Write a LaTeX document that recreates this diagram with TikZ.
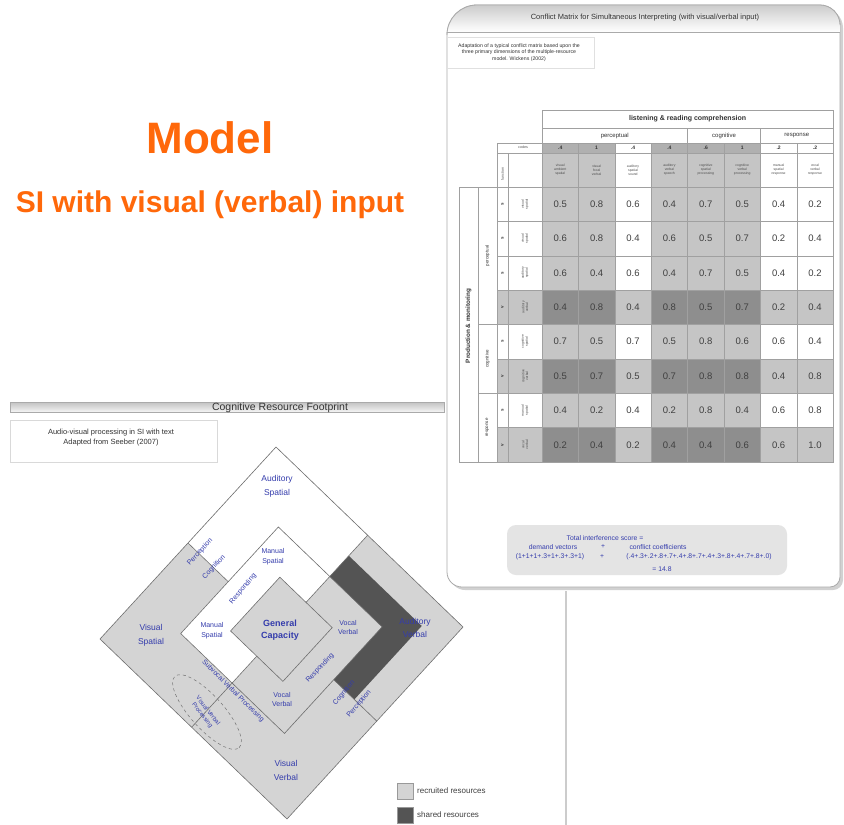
\documentclass[tikz,border=0pt]{standalone}
\usepackage{fontspec}
\setmainfont{Liberation Sans}
\usetikzlibrary{shapes.geometric}

\definecolor{titleorange}{RGB}{255,104,10}
\definecolor{diagblue}{RGB}{52,60,172}
\definecolor{regiongray}{RGB}{212,212,212}
\definecolor{shareddark}{RGB}{84,84,84}
\definecolor{regionedge}{RGB}{110,110,110}
\definecolor{cellL}{RGB}{197,197,197}
\definecolor{cellD}{RGB}{142,142,142}
\definecolor{cellN}{RGB}{176,176,176}
\definecolor{gridgray}{RGB}{160,160,160}
\definecolor{panelline}{RGB}{170,170,170}
\definecolor{formulabg}{RGB}{228,228,228}
\colorlet{cellsA}{cellL}
\colorlet{cellsB}{white}
\colorlet{cellvA}{cellD}
\colorlet{cellvB}{cellL}

\newcommand{\fsz}[1]{\fontsize{#1}{#1}\selectfont}

\begin{document}
\begin{tikzpicture}[x=1pt,y=-1pt,
  dlabel/.style={text=diagblue, align=center, inner sep=0pt, font=\fontsize{8.5}{14}\selectfont},
  slabel/.style={text=diagblue, align=center, inner sep=0pt, font=\fontsize{7}{10}\selectfont},
  regionline/.style={draw=regionedge, line width=0.6pt},
  cell/.style={draw=gridgray, line width=0.4pt, minimum width=36.4pt, minimum height=34.375pt, inner sep=0pt, font=\fsz{9.5}, text=black!75},
  hcell/.style={draw=gridgray, line width=0.4pt, inner sep=0pt, align=center, text=black!80},
  tinytext/.style={inner sep=0pt, align=center, text=black!70, font=\fontsize{3.4}{3.9}\selectfont}
]
\useasboundingbox (0,0) rectangle (844,825);
\fill[white] (0,0) rectangle (844,825);

% ---------- title ----------
\node[anchor=base, text=titleorange, font=\fsz{44}\bfseries, inner sep=0pt] (model) at (210,153) {Model};
\node[anchor=base, text=titleorange, font=\fsz{30}\bfseries, inner sep=0pt] (subtitle) at (210,212) {SI with visual (verbal) input};

% ---------- cognitive resource footprint panel ----------
\shade[top color=black!24, bottom color=black!4, draw=panelline, line width=0.5pt] (10,402) rectangle (444,412);
\node[font=\fsz{10.5}, text=black!80, inner sep=0pt] (crfTitle) at (280,407.5) {Cognitive Resource Footprint};
\node[draw=black!15, line width=0.6pt, minimum width=207pt, minimum height=42pt, inner sep=0pt] (crfBox) at (113.5,441) {};
\node[font=\fontsize{7.5}{10}\selectfont, align=center, text=black!80, inner sep=0pt] (crfNote) at (111,438) {Audio-visual processing in SI with text\\Adapted from Seeber (2007)};

% diamond: a runs towards the right corner, b towards the left corner
\begin{scope}[shift={(276,447)}, x={(187pt,-180pt)}, y={(-176pt,-192pt)}]
  \fill[regiongray] (0,0) -- (1,0) -- (1,1) -- (0,1) -- cycle;
  \fill[white] (0,0) -- (0.49,0) -- (0.49,0.5) -- (0,0.5) -- cycle;
  \fill[regiongray] (0.215,0.215) -- (0.77,0.215) -- (0.77,0.77) -- (0.215,0.77) -- cycle;
  \fill[white] (0.215,0.215) -- (0.49,0.215) -- (0.49,0.77) -- (0.215,0.77) -- cycle;
  \fill[shareddark] (0.49,0.107) -- (0.88,0.107) -- (0.88,0.49) -- (0.77,0.49) -- (0.77,0.215) -- (0.49,0.215) -- cycle;
  \fill[regiongray] (0.35,0.35) -- (0.63,0.35) -- (0.63,0.63) -- (0.35,0.63) -- cycle;
  \draw[regionline] (0,0) -- (1,0) -- (1,1) -- (0,1) -- cycle;
  \draw[regionline] (0.215,0.215) -- (0.77,0.215) -- (0.77,0.77) -- (0.215,0.77) -- cycle;
  \draw[regionline] (0.35,0.35) -- (0.63,0.35) -- (0.63,0.63) -- (0.35,0.63) -- cycle;
  \draw[regionline] (0.49,0) -- (0.49,0.215);
  \draw[regionline] (0,0.5) -- (0.215,0.5);
  \draw[regionline] (0.49,0.77) -- (0.49,1);
  \draw[regionline] (0.77,0.49) -- (1,0.49);
  \draw[regionline] (0.49,0.215) -- (0.49,0.35);
  \draw[regionline] (0.49,0.63) -- (0.49,0.77);
\end{scope}

\node[dlabel] (audSpatial) at (277,486) {Auditory\\Spatial};
\node[dlabel] (visSpatial) at (151,635) {Visual\\Spatial};
\node[dlabel, font=\fontsize{8.5}{13}\selectfont] (audVerbal) at (415,628) {Auditory\\Verbal};
\node[dlabel] (visVerbal) at (286,770) {Visual\\Verbal};
\node[slabel] (manTop) at (273,557) {Manual\\Spatial};
\node[slabel] (manLeft) at (212,631) {Manual\\Spatial};
\node[slabel, font=\fontsize{7}{9}\selectfont] (vocRight) at (348,627.5) {Vocal\\Verbal};
\node[slabel, font=\fontsize{7}{9}\selectfont] (vocBottom) at (282,699.5) {Vocal\\Verbal};
\node[dlabel, font=\fontsize{9}{12}\selectfont\bfseries] (genCap) at (280,630) {General\\Capacity};
\node[slabel, rotate=47] (percTop) at (200,552) {Perception};
\node[slabel, rotate=47] (cogTop) at (214,567) {Cognition};
\node[slabel, rotate=50] (respTop) at (243,589) {Responding};
\node[slabel, rotate=47] (respLow) at (320,668) {Responding};
\node[slabel, rotate=-45, font=\fsz{6.8}] (subvocal) at (233,691) {Subvocal Verbal Processing};
\node[draw=black!55, dashed, line width=0.5pt, ellipse, minimum width=96pt, minimum height=33pt, rotate=-48] (procEllipse) at (207,712) {};
\node[slabel, rotate=-52, font=\fontsize{6}{7.2}\selectfont] (ellText) at (205,713) {Visual Verbal\\Processing};
\node[slabel, rotate=50] (cogLow) at (344,693) {Cognition};
\node[slabel, rotate=50] (percLow) at (359,704) {Perception};

% legend
\node[draw=black!40, fill=regiongray, minimum size=16pt, inner sep=0pt] (legRec) at (405,791) {};
\node[anchor=west, font=\fsz{8}, text=black!75, inner sep=0pt] (legRecTxt) at (417,791) {recruited resources};
\node[draw=black!40, fill=shareddark, minimum size=16pt, inner sep=0pt] (legSha) at (405,815) {};
\node[anchor=west, font=\fsz{8}, text=black!75, inner sep=0pt] (legShaTxt) at (417,815) {shared resources};

% ---------- conflict matrix panel ----------
\coordinate (stemTop) at (566,591);
\coordinate (stemBot) at (566,825);
\draw[black!20, line width=2pt] (stemTop) -- (stemBot);

\fill[black!18] (450,38) .. controls (450,21.4) and (463.4,8) .. (480,8) -- (823,8)
  .. controls (834,8) and (843,17) .. (843,28) -- (843,580)
  .. controls (843,585.5) and (838.5,590) .. (833,590) -- (465,590)
  .. controls (456.7,590) and (450,583.3) .. (450,575) -- cycle;
\path[fill=white, draw=panelline, line width=0.8pt] (447,35) .. controls (447,18.4) and (460.4,5) .. (477,5) -- (820,5)
  .. controls (831,5) and (840,14) .. (840,25) -- (840,577)
  .. controls (840,582.5) and (835.5,587) .. (830,587) -- (462,587)
  .. controls (453.7,587) and (447,580.3) .. (447,572) -- cycle;
\begin{scope}
  \clip (447,35) .. controls (447,18.4) and (460.4,5) .. (477,5) -- (820,5)
  .. controls (831,5) and (840,14) .. (840,25) -- (840,40) -- (447,40) -- cycle;
  \shade[top color=black!20, bottom color=white] (447,5) rectangle (840,32);
\end{scope}
\draw[panelline, line width=0.6pt] (447,32) -- (840,32);
\draw[panelline, line width=0.8pt] (447,35) .. controls (447,18.4) and (460.4,5) .. (477,5) -- (820,5)
  .. controls (831,5) and (840,14) .. (840,25);
\node[font=\fsz{7.5}, text=black!80, inner sep=0pt] (cmTitle) at (645,18) {Conflict Matrix for Simultaneous Interpreting (with visual/verbal input)};
\node[draw=black!12, line width=0.5pt, minimum width=148pt, minimum height=31pt, inner sep=0pt] (cmBox) at (520,52.5) {};
\node[font=\fontsize{5.2}{6.3}\selectfont, align=center, text=black!80, inner sep=0pt] (cmNote) at (519,52.5) {Adaptation of a typical conflict matrix based upon the\\three primary dimensions of the multiple-resource\\model. Wickens (2002)};

% table header
\node[hcell, minimum width=291.2pt, minimum height=18pt, font=\fsz{7}\bfseries] (hLRC) at (687.6,119) {listening \& reading comprehension};
\node[hcell, minimum width=145.6pt, minimum height=15pt, font=\fsz{6}] (hPer) at (614.8,135.5) {perceptual};
\node[hcell, minimum width=72.8pt, minimum height=15pt, font=\fsz{6}] (hCog) at (724,135.5) {cognitive};
\node[hcell, minimum width=72.8pt, minimum height=15pt, font=\fsz{6}] (hRes) at (796.8,135.5) {response};
\foreach \n/\nf/\lf/\lab [count=\c] in {
  .4/cellN/cellL/{visual\\ambient\\spatial},
  1/cellN/cellL/{visual\\focal\\verbal},
  .4/white/white/{auditory\\spatial\\sound},
  .4/cellN/cellL/{auditory\\verbal\\speech},
  .6/cellN/cellL/{cognitive\\spatial\\processing},
  1/cellN/cellL/{cognitive\\verbal\\processing},
  .2/white/white/{manual\\spatial\\response},
  .2/white/white/{vocal\\verbal\\response}}
{
  \node[hcell, fill=\nf, minimum width=36.4pt, minimum height=10pt, font=\fsz{5}\bfseries] (num\c) at (542+36.4*\c-18.2,148) {\n};
  \node[hcell, fill=\lf, minimum width=36.4pt, minimum height=34pt] (lab\c) at (542+36.4*\c-18.2,170) {};
  \node[tinytext] (labTxt\c) at (542+36.4*\c-18.2,170) {\lab};
}
\node[hcell, minimum width=45pt, minimum height=10pt] (hCodes) at (519.5,148) {};
\node[tinytext, font=\fsz{3.6}] (hCodesTxt) at (523,147) {codes};
\node[hcell, minimum width=11pt, minimum height=34pt] (hFunc) at (502.5,170) {};
\node[tinytext, rotate=90, font=\fsz{3.6}] (hFuncTxt) at (502.5,174) {function};
\node[hcell, minimum width=34pt, minimum height=34pt] (hBlank) at (525,170) {};

% row groups
\node[hcell, minimum width=19pt, minimum height=275pt] (gProd) at (468.5,324.5) {};
\node[rotate=90, font=\fsz{6.3}\bfseries, text=black!80, inner sep=0pt] (gProdTxt) at (468.5,326) {Production \& monitoring};
\node[hcell, minimum width=19pt, minimum height=137.5pt] (gPer) at (487.5,255.75) {};
\node[rotate=90, font=\fsz{4.5}, text=black!80, inner sep=0pt] (gPerTxt) at (487.5,255.75) {perceptual};
\node[hcell, minimum width=19pt, minimum height=68.75pt] (gCog) at (487.5,358.9) {};
\node[rotate=90, font=\fsz{4.5}, text=black!80, inner sep=0pt] (gCogTxt) at (487.5,358.9) {cognitive};
\node[hcell, minimum width=19pt, minimum height=68.75pt] (gRes) at (487.5,427.6) {};
\node[rotate=90, font=\fsz{4.5}, text=black!80, inner sep=0pt] (gResTxt) at (487.5,427.6) {response};

% matrix rows
\foreach \r/\k/\lett/\lab/\vals in {
  1/s/s/{visual\\spatial}/{0.5,0.8,0.6,0.4,0.7,0.5,0.4,0.2},
  2/s/s/{visual\\spatial}/{0.6,0.8,0.4,0.6,0.5,0.7,0.2,0.4},
  3/s/s/{auditory\\spatial}/{0.6,0.4,0.6,0.4,0.7,0.5,0.4,0.2},
  4/v/v/{auditory\\verbal}/{0.4,0.8,0.4,0.8,0.5,0.7,0.2,0.4},
  5/s/s/{cognitive\\spatial}/{0.7,0.5,0.7,0.5,0.8,0.6,0.6,0.4},
  6/v/v/{cognitive\\verbal}/{0.5,0.7,0.5,0.7,0.8,0.8,0.4,0.8},
  7/s/s/{manual\\spatial}/{0.4,0.2,0.4,0.2,0.8,0.4,0.6,0.8},
  8/v/v/{vocal\\verbal}/{0.2,0.4,0.2,0.4,0.4,0.6,0.6,1.0}}
{
  \edef\sidefill{\if\k vcellL\else white\fi}
  \node[hcell, fill=\sidefill, minimum width=11pt, minimum height=34.375pt] (let\r) at (502.5,187+34.375*\r-17.19) {};
  \node[rotate=90, font=\fsz{4.5}\bfseries, text=black!80, inner sep=0pt] (letTxt\r) at (502.5,187+34.375*\r-17.19) {\lett};
  \node[hcell, fill=\sidefill, minimum width=34pt, minimum height=34.375pt] (rlab\r) at (525,187+34.375*\r-17.19) {};
  \node[tinytext, rotate=90] (rlabTxt\r) at (525,187+34.375*\r-17.19) {\lab};
  \foreach \v [count=\c] in \vals {
    \edef\cellcol{cell\k\ifcase\c\or A\or A\or B\or A\or A\or A\or B\or B\fi}
    \node[cell, fill=\cellcol] (v\r-\c) at (542+36.4*\c-18.2,187+34.375*\r-17.19) {\v};
  }
}

% total score
\node[fill=formulabg, rounded corners=9pt, minimum width=280pt, minimum height=50pt, inner sep=0pt] (fBox) at (647,550) {};
\begin{scope}[every node/.style={text=diagblue, inner sep=0pt, font=\fsz{6.8}}]
  \node (fL1) at (605,538) {Total interference score =};
  \node (fL2a) at (553,547) {demand vectors};
  \node (fL2b) at (603,547) {+};
  \node (fL2c) at (658,547) {conflict coefficients};
  \node (fL3a) at (550,557) {(1+1+1+.3+1+.3+.3+1)};
  \node (fL3b) at (602,557) {+};
  \node (fL3c) at (699,557) {(.4+.3+.2+.8+.7+.4+.8+.7+.4+.3+.8+.4+.7+.8+.0)};
  \node (fL4) at (662,569) {= 14.8};
\end{scope}
\end{tikzpicture}
\end{document}
